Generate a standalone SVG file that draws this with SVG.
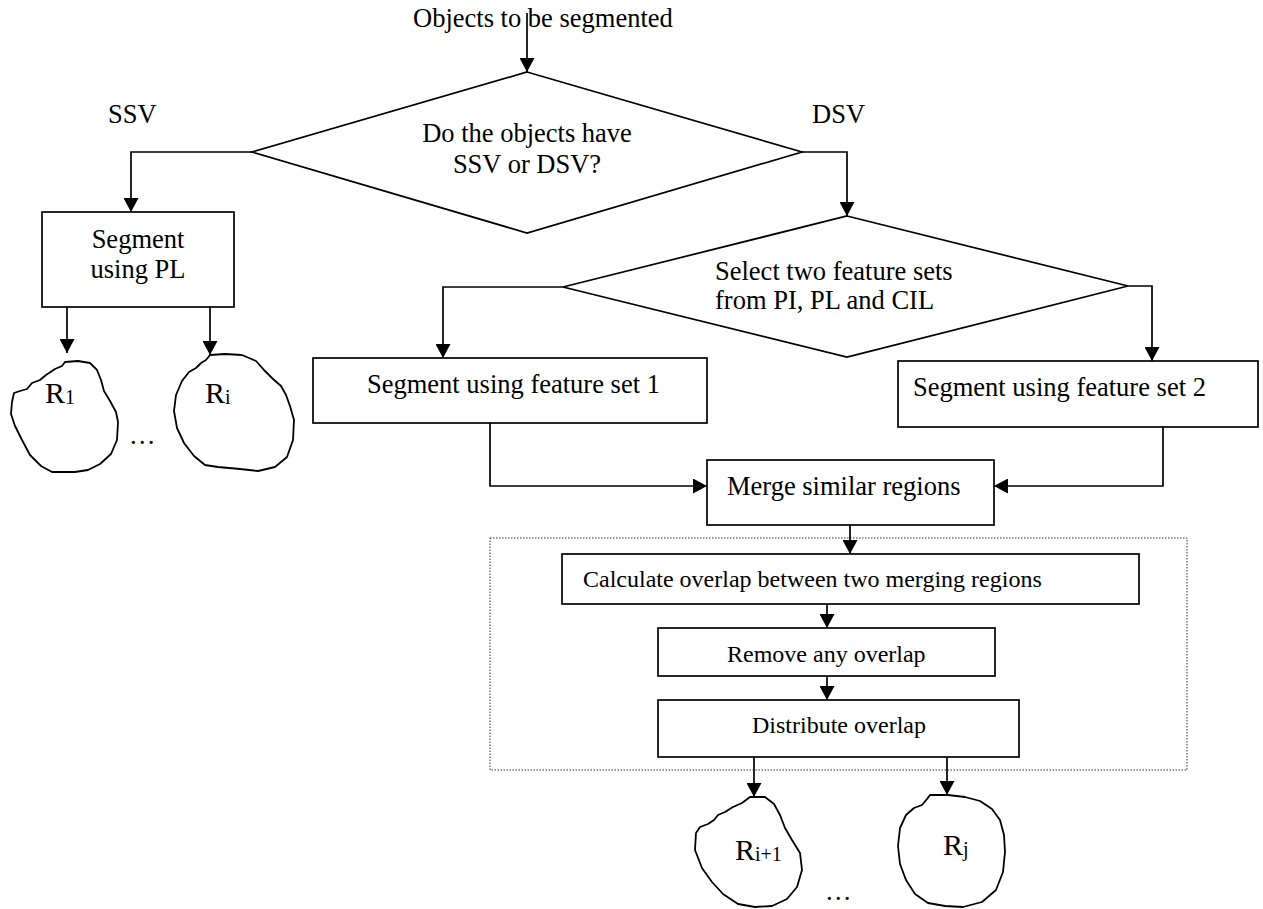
<svg xmlns="http://www.w3.org/2000/svg" width="1263" height="909" viewBox="0 0 1263 909">
<defs>
<marker id="ah" markerUnits="userSpaceOnUse" markerWidth="15" markerHeight="15" refX="14" refY="7.5" orient="auto">
<path d="M0,0 L14,7.5 L0,15 Z" fill="#000"/>
</marker>
<style>
.s{fill:#fff;stroke:#000;stroke-width:1.7}
.c{fill:none;stroke:#000;stroke-width:1.7;marker-end:url(#ah)}
.l{fill:none;stroke:#000;stroke-width:1.7}
.t{font-family:"Liberation Serif","Times New Roman",serif;font-size:26.5px;fill:#000}
.m{font-family:"Liberation Serif","Times New Roman",serif;font-size:24px;fill:#000}
.r{font-family:"Liberation Serif","Times New Roman",serif;font-size:30px;fill:#000}
.sub{font-size:20px}
.blob{fill:#fff;stroke:#000;stroke-width:1.8;stroke-linejoin:round}
</style>
</defs>
<rect width="1263" height="909" fill="#fff"/>

<g id="group-box">
<rect x="490" y="538" width="697" height="232" fill="none" stroke="#333" stroke-width="1" stroke-dasharray="1.5,1.5"/>
</g>

<g id="connectors">
<path class="c" d="M527,13 L527,72"/>
<path class="c" d="M252,152 L131,152 L131,212"/>
<path class="c" d="M802,152 L847,152 L847,216"/>
<path class="c" d="M67,307 L67,353"/>
<path class="c" d="M210,307 L210,355"/>
<path class="c" d="M563,287 L443,287 L443,358"/>
<path class="c" d="M1128,286 L1152,286 L1152,361"/>
<path class="c" d="M490,423 L490,486 L707,486"/>
<path class="c" d="M1163,427 L1163,486 L994,486"/>
<path class="c" d="M850,525 L850,554"/>
<path class="c" d="M827,604 L827,628"/>
<path class="c" d="M827,676 L827,700"/>
<path class="c" d="M754,757 L754,797"/>
<path class="c" d="M947,757 L947,795"/>
</g>

<g id="start-label">
<text class="t" x="413" y="27">Objects to be segmented</text>
</g>

<g id="decision1">
<polygon class="s" points="527,72 802,152 527,233 252,152"/>
<text class="t" x="527" y="142" text-anchor="middle">Do the objects have</text>
<text class="t" x="527" y="173" text-anchor="middle">SSV or DSV?</text>
</g>

<g id="label-ssv"><text class="t" x="108" y="123">SSV</text></g>
<g id="label-dsv"><text class="t" x="812" y="123">DSV</text></g>

<g id="segment-pl">
<rect class="s" x="42" y="212" width="192" height="95"/>
<text class="t" x="138" y="248" text-anchor="middle">Segment</text>
<text class="t" x="138" y="278" text-anchor="middle">using PL</text>
</g>

<g id="region-r1">
<path class="blob" d="M65,362 L78,361 L90,363 L97,370 L101,380 L104,391 L110,401 L116,412 L118,422 L117,440 L111,454 L100,464 L88,470 L75,472 L52,472 L41,466 L30,455 L22,440 L15,426 L11,414 L12,402 L14,393 L20,391 L27,389 L32,383 L40,380 L46,375 L55,369 L62,366 Z"/>
<text class="r" x="45" y="403">R<tspan class="sub" dy="1">1</tspan></text>
</g>

<g id="region-ri">
<path class="blob" d="M210,355 L225,354 L242,355 L256,361 L264,370 L273,379 L281,386 L286,395 L290,406 L294,420 L293,440 L287,457 L275,467 L258,471 L240,469 L218,467 L205,465 L194,456 L184,443 L177,428 L174,411 L176,395 L182,381 L189,372 L196,368 L201,363 L206,360 Z"/>
<text class="r" x="205" y="403">R<tspan class="sub" dy="1">i</tspan></text>
</g>

<g id="dots1"><text class="t" x="129" y="444">…</text></g>

<g id="decision2">
<polygon class="s" points="847,216 1128,286 847,357 563,287"/>
<text class="t" x="715" y="280">Select two feature sets</text>
<text class="t" x="715" y="309">from PI, PL and CIL</text>
</g>

<g id="segment-fs1">
<rect class="s" x="313" y="358" width="394" height="65"/>
<text class="t" x="367" y="393">Segment using feature set 1</text>
</g>

<g id="segment-fs2">
<rect class="s" x="898" y="361" width="360" height="66"/>
<text class="t" x="913" y="396">Segment using feature set 2</text>
</g>

<g id="merge">
<rect class="s" x="707" y="460" width="287" height="65"/>
<text class="t" x="727" y="495">Merge similar regions</text>
</g>

<g id="calculate">
<rect class="s" x="562" y="554" width="577" height="50"/>
<text class="m" x="583" y="587">Calculate overlap between two merging regions</text>
</g>

<g id="remove">
<rect class="s" x="658" y="628" width="337" height="48"/>
<text class="m" x="727" y="662">Remove any overlap</text>
</g>

<g id="distribute">
<rect class="s" x="658" y="700" width="361" height="57"/>
<text class="m" x="752" y="733">Distribute overlap</text>
</g>

<g id="region-ri1">
<path class="blob" d="M750,797 L765,797 L774,804 L780,815 L785,828 L792,840 L800,853 L802,870 L797,887 L787,899 L772,906 L755,907 L738,904 L723,894 L712,882 L702,868 L695,850 L696,833 L700,827 L708,824 L714,820 L718,815 L725,812 L733,807 L742,803 Z"/>
<text class="r" x="735" y="860">R<tspan class="sub" dy="1">i+1</tspan></text>
</g>

<g id="region-rj">
<path class="blob" d="M930,795 L948,795 L965,797 L980,801 L992,809 L1000,820 L1004,835 L1005,852 L1003,872 L996,890 L982,902 L963,907 L945,906 L928,903 L915,894 L906,880 L900,864 L898,846 L900,828 L906,815 L914,808 L922,805 L927,799 Z"/>
<text class="r" x="943" y="855">R<tspan class="sub" dy="1">j</tspan></text>
</g>

<g id="dots2"><text class="t" x="825" y="900">…</text></g>
</svg>
